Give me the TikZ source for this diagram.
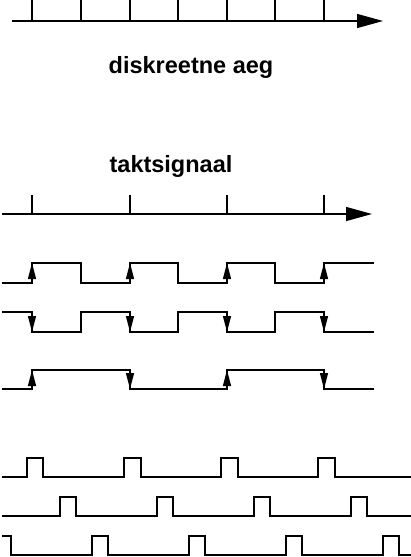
\documentclass[tikz,border=0pt]{standalone}
\usepackage{fontspec}
\setmainfont{Liberation Sans}
\usetikzlibrary{arrows.meta}
\begin{document}
\begin{tikzpicture}[x=1pt,y=-1pt,line width=1.3pt,
  wave/.style={draw=black,line width=1.3pt},
  axisarrow/.style={-{Triangle[length=26pt,width=14pt]}},
  edgearrow/.style={-{Triangle[length=16pt,width=8pt]}},
  lbl/.style={font=\bfseries\fontsize{23.5}{28}\selectfont,anchor=base,inner sep=0pt}]
\useasboundingbox (0,0) rectangle (411,557);
% discrete time axis
\draw[axisarrow] (12,21) -- (383,21);
\foreach \x in {32,81,130,178,227,275,324} \draw (\x,0) -- (\x,21);
\node[lbl] (disk) at (191,73) {diskreetne aeg};
% clock signal
\node[lbl] (takt) at (171,172) {taktsignaal};
\draw[axisarrow] (2,214) -- (372,214);
\foreach \x in {32,130,227,324} \draw (\x,195) -- (\x,214);
% signal 1: rising edges
\draw[wave] (2,283) -- (32,283) -- (32,263) -- (81,263) -- (81,283) -- (130,283) -- (130,263) -- (178,263) -- (178,283) -- (227,283) -- (227,263) -- (275,263) -- (275,283) -- (324,283) -- (324,263) -- (374,263);
\foreach \x in {32,130,227,324} \draw[edgearrow] (\x,283) -- (\x,263);
% signal 2: falling edges
\draw[wave] (2,312) -- (32,312) -- (32,332) -- (81,332) -- (81,312) -- (130,312) -- (130,332) -- (178,332) -- (178,312) -- (227,312) -- (227,332) -- (275,332) -- (275,312) -- (324,312) -- (324,332) -- (374,332);
\foreach \x in {32,130,227,324} \draw[edgearrow] (\x,312) -- (\x,332);
% signal 3: both edges
\draw[wave] (2,389) -- (32,389) -- (32,370) -- (130,370) -- (130,389) -- (227,389) -- (227,370) -- (324,370) -- (324,389) -- (374,389);
\foreach \x in {32,227} \draw[edgearrow] (\x,389) -- (\x,370);
\foreach \x in {130,324} \draw[edgearrow] (\x,370) -- (\x,389);
% pulse rows
\draw[wave] (2,477) -- (27,477) -- (27,458) -- (43,458) -- (43,477) -- (124,477) -- (124,458) -- (141,458) -- (141,477) -- (221,477) -- (221,458) -- (238,458) -- (238,477) -- (318,477) -- (318,458) -- (335,458) -- (335,477) -- (411,477);
\draw[wave] (2,516) -- (60,516) -- (60,497) -- (76,497) -- (76,516) -- (157,516) -- (157,497) -- (173,497) -- (173,516) -- (254,516) -- (254,497) -- (270,497) -- (270,516) -- (351,516) -- (351,497) -- (367,497) -- (367,516) -- (411,516);
\draw[wave] (2,536) -- (11,536) -- (11,555) -- (92,555) -- (92,536) -- (108,536) -- (108,555) -- (189,555) -- (189,536) -- (205,536) -- (205,555) -- (286,555) -- (286,536) -- (302,536) -- (302,555) -- (383,555) -- (383,536) -- (399,536) -- (399,555) -- (411,555);
\end{tikzpicture}
\end{document}
